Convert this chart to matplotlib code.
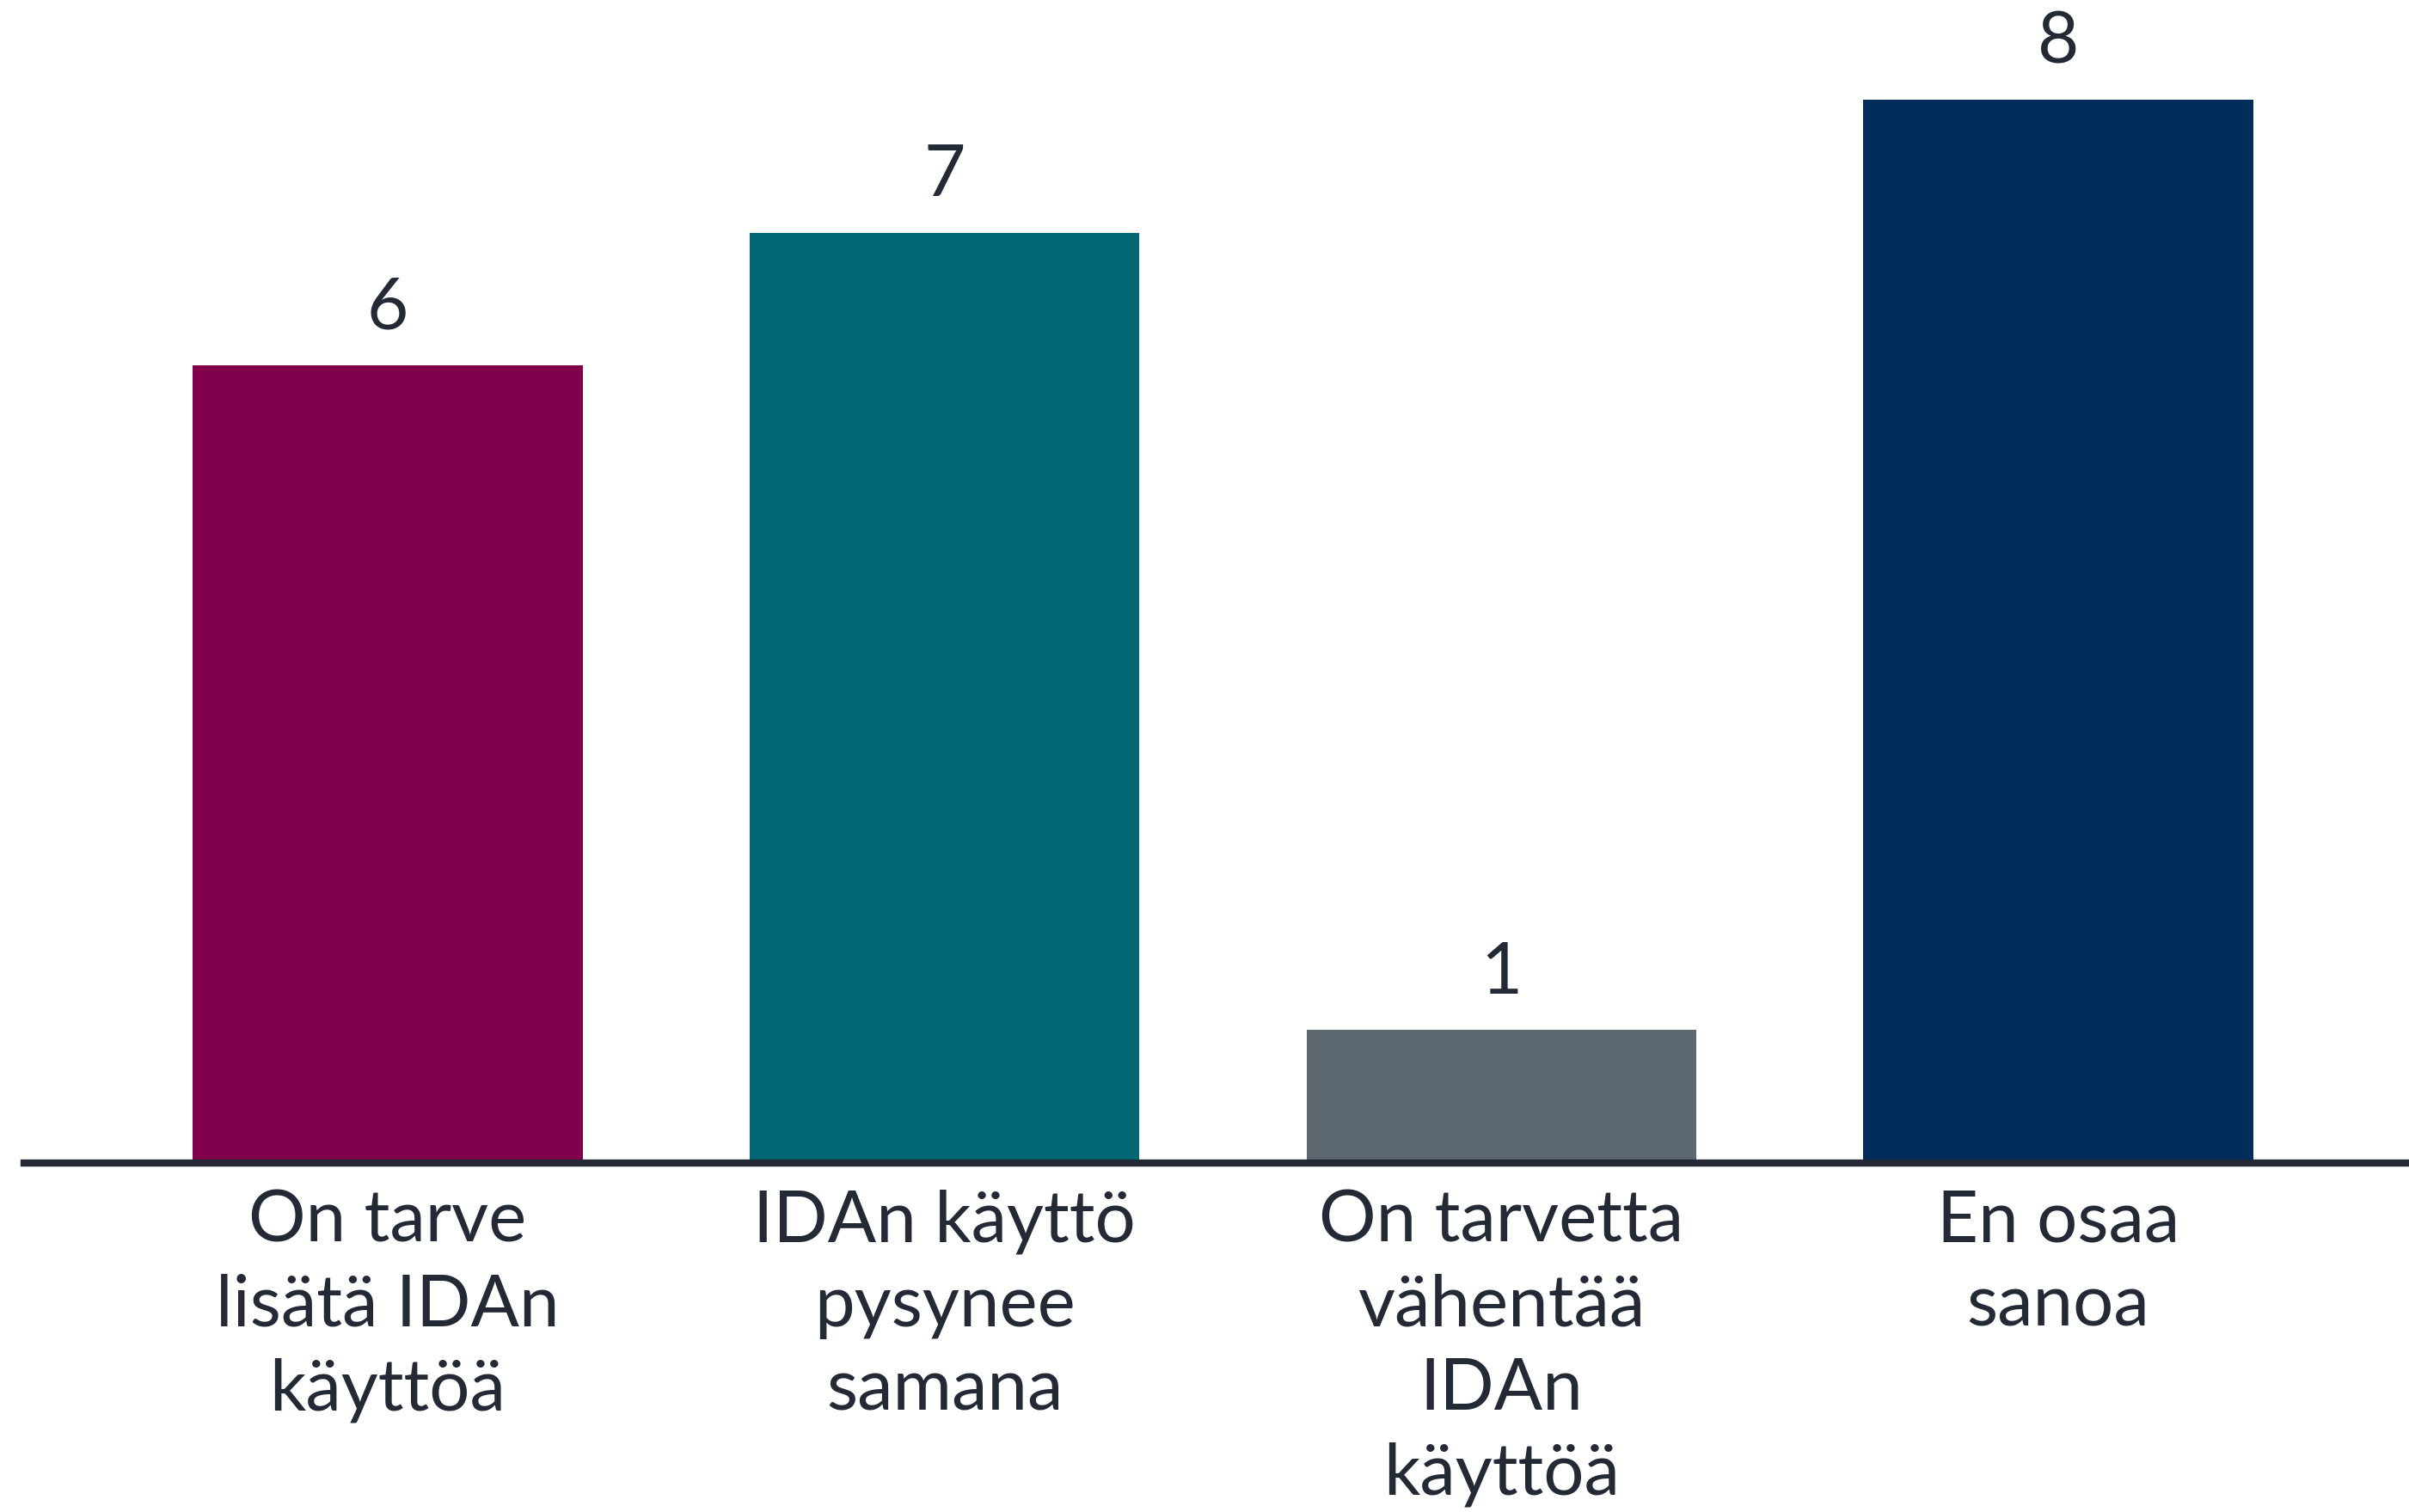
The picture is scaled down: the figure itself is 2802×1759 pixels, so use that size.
import matplotlib
matplotlib.use("Agg")
import matplotlib.pyplot as plt

categories = ["On tarve\nlisätä IDAn\nkäyttöä",
              "IDAn käyttö\npysynee\nsamana",
              "On tarvetta\nvähentää\nIDAn\nkäyttöä",
              "En osaa\nsanoa"]
values = [6, 7, 1, 8]
colors = ["#80004B", "#006674", "#5C6770", "#002D5A"]

plt.rcParams['font.family'] = ['Lato', 'DejaVu Sans']
text_color = "#242A35"

W, H = 2802, 1759
fig = plt.figure(figsize=(W / 100, H / 100), dpi=100)
ax_left = 28 / W
ax_bottom = (H - 1353) / H
ax = fig.add_axes([ax_left, ax_bottom, 1 - ax_left, 1353 / H])

x = list(range(len(categories)))
bars = ax.bar(x, values, width=0.7, color=colors, zorder=2)
ax.set_xlim(-0.653, 3.63)
ax.set_ylim(0, 8.75)

for xi, v in zip(x, values):
    ax.annotate(str(v), (xi, v), xytext=(0, 20), textcoords="offset points",
                ha="center", va="bottom", fontsize=60, color=text_color)

ax.set_xticks(x)
ax.set_xticklabels(categories, fontsize=60, color=text_color, linespacing=1.36,
                   ha="center", va="top")
ax.tick_params(axis="x", length=0, pad=22)
ax.set_yticks([])
for s in ["top", "right", "left"]:
    ax.spines[s].set_visible(False)
ax.spines["bottom"].set_color("#242A35")
ax.spines["bottom"].set_linewidth(6)
ax.spines["bottom"].set_zorder(3)

fig.savefig("out.png", dpi=100, facecolor="white")
